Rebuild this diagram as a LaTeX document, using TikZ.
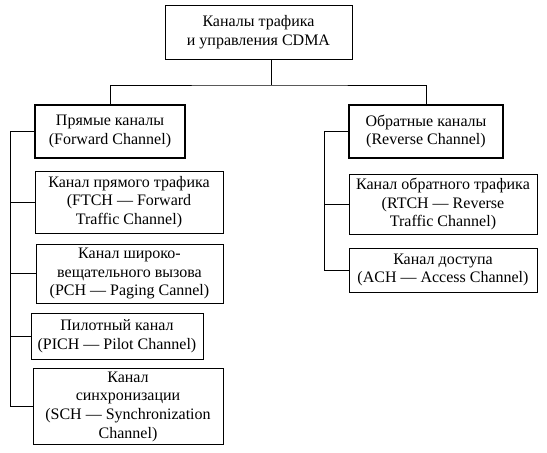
\documentclass[tikz,border=0pt]{standalone}
\usepackage{fontspec}
\setmainfont{Liberation Serif}
\usepackage{tikz}
\usetikzlibrary{positioning}

\tikzset{
  box/.style={draw, line width=0.6pt, align=center, inner sep=2pt,
    font=\fontsize{12}{14}\selectfont},
  mainbox/.style={box, line width=1.7pt},
  link/.style={line width=0.6pt}
}

\begin{document}
\begin{tikzpicture}[x=0.75pt, y=-0.75pt]
  \useasboundingbox (0,0) rectangle (547,453);
  % Root of the tree
  \node[box, minimum width=187*0.75pt, minimum height=54*0.75pt] (top) at (258.5,32)
    {Каналы трафика\\и управления CDMA};
  % Forward and reverse groups
  \node[mainbox, minimum width=150*0.75pt, minimum height=53*0.75pt] (fwd) at (110,131.5)
    {Прямые каналы\\(Forward Channel)};
  \node[mainbox, minimum width=154*0.75pt, minimum height=53*0.75pt] (rev) at (426,131.5)
    {Обратные каналы\\(Reverse Channel)};
  % Forward channels
  \node[box, minimum width=188*0.75pt, minimum height=62*0.75pt] (ftch) at (129,202)
    {Канал прямого трафика\\(FTCH — Forward\\Traffic Channel)};
  \node[box, minimum width=187*0.75pt, minimum height=59*0.75pt] (pch) at (129.5,273.5)
    {Канал широко-\\вещательного вызова\\(PCH — Paging Cannel)};
  \node[box, minimum width=172*0.75pt, minimum height=46*0.75pt] (pich) at (117,336)
    {Пилотный канал\\(PICH — Pilot Channel)};
  \node[box, minimum width=190*0.75pt, minimum height=73*0.75pt] (sch) at (128,406.5)
    {Канал\\синхронизации\\(SCH — Synchronization\\Channel)};
  % Reverse channels
  \node[box, minimum width=188*0.75pt, minimum height=60*0.75pt] (rtch) at (443,204)
    {Канал обратного трафика\\(RTCH — Reverse\\Traffic Channel)};
  \node[box, minimum width=188*0.75pt, minimum height=44*0.75pt] (ach) at (443,270)
    {Канал доступа\\(ACH — Access Channel)};
  % Branching points
  \coordinate (split) at (271,85);
  \coordinate (lbus) at (10,0);
  \coordinate (rbus) at (324,0);
  % Connectors from the root
  \draw[link] (top.south -| split) -- (split);
  \draw[link] (fwd.north) |- (split) -| (rev.north);
  % Left bus
  \draw[link] (fwd.west) -| (lbus |- sch.west) -- (sch.west);
  \foreach \c in {ftch, pch, pich} {
    \draw[link] (lbus |- \c.west) -- (\c.west);
  }
  % Right bus
  \draw[link] (rev.west) -| (rbus |- ach.west) -- (ach.west);
  \draw[link] (rbus |- rtch.west) -- (rtch.west);
\end{tikzpicture}
\end{document}
